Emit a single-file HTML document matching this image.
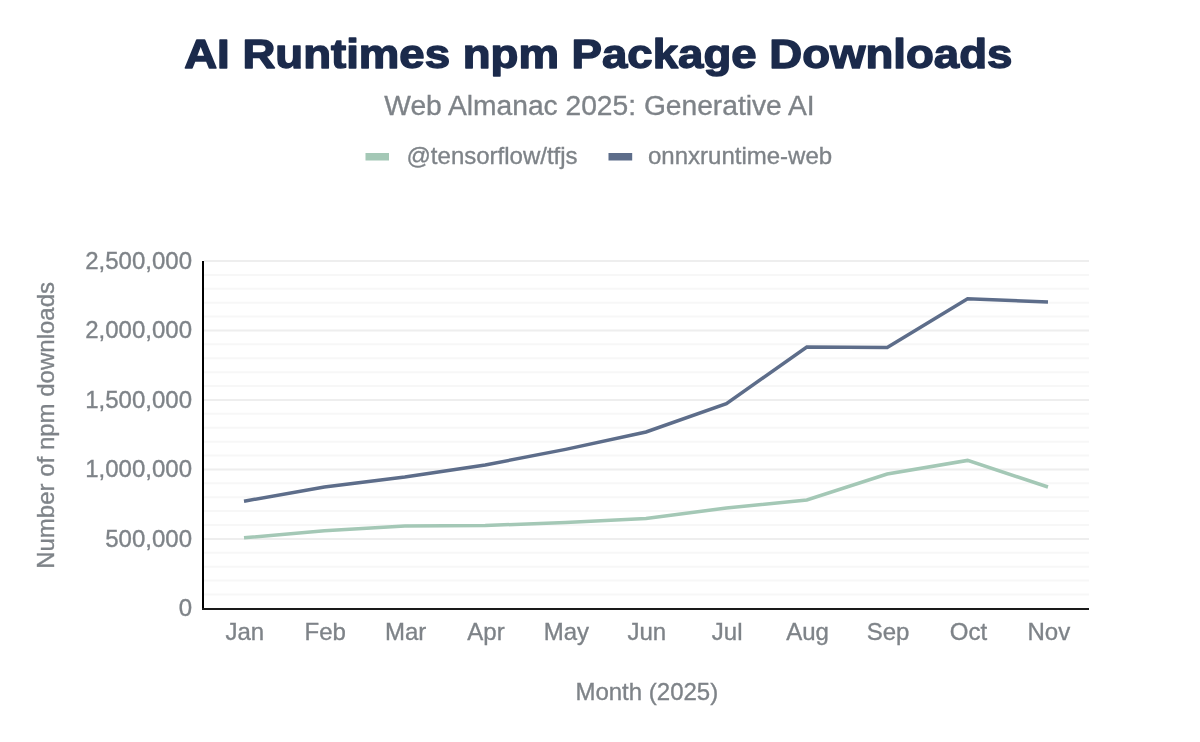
<!DOCTYPE html>
<html><head><meta charset="utf-8"><style>
html,body{margin:0;padding:0;background:#fff;}
body{width:1200px;height:742px;overflow:hidden;}
svg{display:block;font-family:"Liberation Sans",sans-serif;will-change:transform;}
</style></head><body>
<svg width="1200" height="742" viewBox="0 0 1200 742">
<rect width="1200" height="742" fill="#fff"/>
<g transform="translate(598.25,68.3) scale(1.123,1)"><text x="0" y="0" text-anchor="middle" font-size="40.6" font-weight="bold" fill="#1b2a4b" stroke="#1b2a4b" stroke-width="1.4" stroke-linejoin="round">AI Runtimes npm Package Downloads</text></g>
<text x="599.5" y="114.8" text-anchor="middle" font-size="28.2" fill="#7e8388" stroke="#7e8388" stroke-width="0.35">Web Almanac 2025: Generative AI</text>
<g font-size="24" fill="#7e8388" stroke="#7e8388" stroke-width="0.35">
<rect x="365.5" y="153" width="23.5" height="7.5" fill="#a4c8b6" stroke="none"/>
<text x="406.5" y="164">@tensorflow/tfjs</text>
<rect x="608.5" y="153" width="23.7" height="7.5" fill="#5d6d8a" stroke="none"/>
<text x="648" y="164">onnxruntime-web</text>
</g>
<g><line x1="204" x2="1089" y1="261.00" y2="261.00" stroke="#eeeeee" stroke-width="2"/><line x1="204" x2="1089" y1="274.89" y2="274.89" stroke="#f7f7f7" stroke-width="2"/><line x1="204" x2="1089" y1="288.79" y2="288.79" stroke="#f7f7f7" stroke-width="2"/><line x1="204" x2="1089" y1="302.69" y2="302.69" stroke="#f7f7f7" stroke-width="2"/><line x1="204" x2="1089" y1="316.58" y2="316.58" stroke="#f7f7f7" stroke-width="2"/><line x1="204" x2="1089" y1="330.48" y2="330.48" stroke="#eeeeee" stroke-width="2"/><line x1="204" x2="1089" y1="344.37" y2="344.37" stroke="#f7f7f7" stroke-width="2"/><line x1="204" x2="1089" y1="358.26" y2="358.26" stroke="#f7f7f7" stroke-width="2"/><line x1="204" x2="1089" y1="372.16" y2="372.16" stroke="#f7f7f7" stroke-width="2"/><line x1="204" x2="1089" y1="386.06" y2="386.06" stroke="#f7f7f7" stroke-width="2"/><line x1="204" x2="1089" y1="399.95" y2="399.95" stroke="#eeeeee" stroke-width="2"/><line x1="204" x2="1089" y1="413.85" y2="413.85" stroke="#f7f7f7" stroke-width="2"/><line x1="204" x2="1089" y1="427.74" y2="427.74" stroke="#f7f7f7" stroke-width="2"/><line x1="204" x2="1089" y1="441.63" y2="441.63" stroke="#f7f7f7" stroke-width="2"/><line x1="204" x2="1089" y1="455.53" y2="455.53" stroke="#f7f7f7" stroke-width="2"/><line x1="204" x2="1089" y1="469.42" y2="469.42" stroke="#eeeeee" stroke-width="2"/><line x1="204" x2="1089" y1="483.32" y2="483.32" stroke="#f7f7f7" stroke-width="2"/><line x1="204" x2="1089" y1="497.22" y2="497.22" stroke="#f7f7f7" stroke-width="2"/><line x1="204" x2="1089" y1="511.11" y2="511.11" stroke="#f7f7f7" stroke-width="2"/><line x1="204" x2="1089" y1="525.00" y2="525.00" stroke="#f7f7f7" stroke-width="2"/><line x1="204" x2="1089" y1="538.90" y2="538.90" stroke="#eeeeee" stroke-width="2"/><line x1="204" x2="1089" y1="552.80" y2="552.80" stroke="#f7f7f7" stroke-width="2"/><line x1="204" x2="1089" y1="566.69" y2="566.69" stroke="#f7f7f7" stroke-width="2"/><line x1="204" x2="1089" y1="580.59" y2="580.59" stroke="#f7f7f7" stroke-width="2"/><line x1="204" x2="1089" y1="594.48" y2="594.48" stroke="#f7f7f7" stroke-width="2"/></g>
<line x1="203" y1="261" x2="203" y2="610" stroke="#000" stroke-width="2"/>
<line x1="202" y1="609" x2="1089" y2="609" stroke="#1a1a1a" stroke-width="2"/>
<g font-size="24" fill="#7e8388" stroke="#7e8388" stroke-width="0.35"><text x="192" y="269.00" text-anchor="end">2,500,000</text><text x="192" y="338.48" text-anchor="end">2,000,000</text><text x="192" y="407.95" text-anchor="end">1,500,000</text><text x="192" y="477.42" text-anchor="end">1,000,000</text><text x="192" y="546.90" text-anchor="end">500,000</text><text x="192" y="616.38" text-anchor="end">0</text><text x="244.8" y="640" text-anchor="middle">Jan</text><text x="325.2" y="640" text-anchor="middle">Feb</text><text x="405.6" y="640" text-anchor="middle">Mar</text><text x="486.0" y="640" text-anchor="middle">Apr</text><text x="566.4" y="640" text-anchor="middle">May</text><text x="646.8" y="640" text-anchor="middle">Jun</text><text x="727.2" y="640" text-anchor="middle">Jul</text><text x="807.6" y="640" text-anchor="middle">Aug</text><text x="888.0" y="640" text-anchor="middle">Sep</text><text x="968.4" y="640" text-anchor="middle">Oct</text><text x="1048.8" y="640" text-anchor="middle">Nov</text>
<text x="646.8" y="700" text-anchor="middle">Month (2025)</text>
<text transform="translate(53.9,425.4) rotate(-90)" x="0" y="0" text-anchor="middle">Number of npm downloads</text>
</g>
<polyline points="244.0,537.80 324.4,530.75 404.8,525.90 485.2,525.50 565.6,522.60 646.0,518.50 726.4,508.00 806.8,500.00 887.2,474.00 967.6,460.40 1048.0,487.00" fill="none" stroke="#a4c8b6" stroke-width="3.5" stroke-linejoin="miter"/>
<polyline points="244.0,501.20 324.4,487.00 404.8,477.00 485.2,465.00 565.6,449.40 646.0,432.00 726.4,403.60 806.8,347.00 887.2,347.60 967.6,298.75 1048.0,302.00" fill="none" stroke="#5d6d8a" stroke-width="3.5" stroke-linejoin="miter"/>
</svg>
</body></html>
